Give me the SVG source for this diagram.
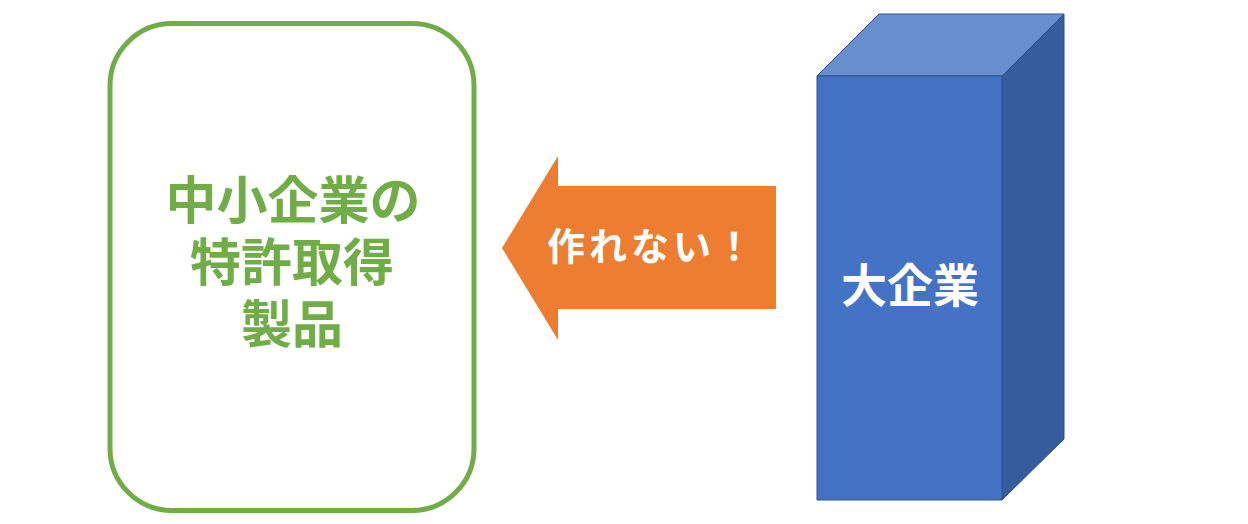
<svg xmlns="http://www.w3.org/2000/svg" width="1248" height="524" viewBox="0 0 1248 524">
<style>
.cjk{font-family:"Noto Sans CJK JP","Noto Sans CJK SC",sans-serif;font-weight:bold;text-anchor:middle}
.green{fill:#70AD47;font-size:51px}
.white{fill:#FFFFFF}
.edge{stroke:#2F528F;stroke-width:1;stroke-linejoin:round}
</style>
<rect width="1248" height="524" fill="#FFFFFF"/>
<g id="sme-product">
<rect x="110" y="23.5" width="364" height="487" rx="62" ry="62" fill="#FFFFFF" stroke="#70AD47" stroke-width="5"/>
<text class="cjk green" x="293" y="219">中小企業の</text>
<text class="cjk green" x="292" y="281">特許取得</text>
<text class="cjk green" x="292" y="343">製品</text>
</g>
<g id="connectors">
<g id="arrow">
<polygon points="502,248 558,156 558,186 776,186 776,309 558,309 558,340" fill="#ED7D31"/>
<text class="cjk white" x="652" y="260" font-size="38" letter-spacing="4">作れない！</text>
</g>
</g>
<g id="big-company">
<polygon class="edge" points="817,76 879,14 1064,14 1002,76" fill="#698ED0"/>
<polygon class="edge" points="1002,76 1064,14 1064,439 1002,500" fill="#355D9E"/>
<rect class="edge" x="817" y="76" width="185" height="424" fill="#4472C4"/>
<text class="cjk white" x="910" y="302" font-size="46">大企業</text>
</g>
</svg>
